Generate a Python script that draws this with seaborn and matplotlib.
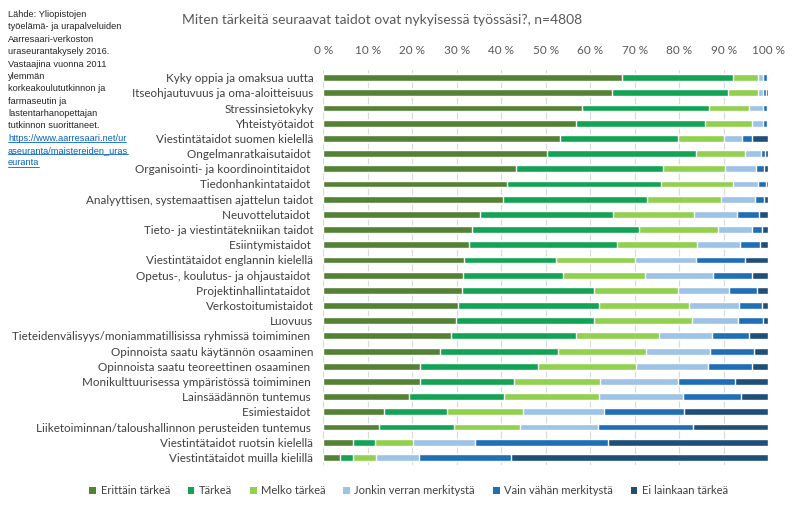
"""Stacked bar chart: how important are skills in current job."""

import matplotlib.pyplot as plt
import pandas as pd
import seaborn as sns
from matplotlib.lines import Line2D
from matplotlib.patches import Patch

skills = [
    "Kyky oppia ja omaksua uutta",
    "Itseohjautuvuus ja oma-aloitteisuus",
    "Stressinsietokyky",
    "Yhteistyötaidot",
    "Viestintätaidot suomen kielellä",
    "Ongelmanratkaisutaidot ",
    "Organisointi- ja koordinointitaidot ",
    "Tiedonhankintataidot ",
    "Analyyttisen, systemaattisen ajattelun taidot",
    "Neuvottelutaidot ",
    "Tieto- ja viestintätekniikan taidot",
    "Esiintymistaidot ",
    "Viestintätaidot englannin kielellä",
    "Opetus-, koulutus- ja ohjaustaidot ",
    "Projektinhallintataidot ",
    "Verkostoitumistaidot",
    "Luovuus",
    "Tieteidenvälisyys/moniammatillisissa ryhmissä toimiminen ",
    "Opinnoista saatu käytännön osaaminen",
    "Opinnoista saatu teoreettinen osaaminen ",
    "Monikulttuurisessa ympäristössä toimiminen ",
    "Lainsäädännön tuntemus ",
    "Esimiestaidot ",
    "Liiketoiminnan/taloushallinnon perusteiden tuntemus ",
    "Viestintätaidot ruotsin kielellä",
    "Viestintätaidot muilla kielillä",
]

levels = [
    "Erittäin tärkeä",
    "Tärkeä",
    "Melko tärkeä",
    "Jonkin verran merkitystä",
    "Vain vähän merkitystä",
    "Ei lainkaan tärkeä",
]

# percentages per answer level, same order as skills
erittain = [67.1, 65.0, 58.1, 56.9, 53.3, 50.4, 43.3, 41.4, 40.5, 35.3, 33.4, 32.7, 31.7,
            31.5, 31.2, 30.3, 29.9, 28.8, 26.3, 21.8, 21.8, 19.2, 13.7, 12.6, 6.6, 3.8]
tarkea = [24.9, 26.0, 28.6, 28.9, 26.5, 33.4, 33.0, 34.4, 32.2, 29.9, 37.5, 33.4, 20.7,
          22.4, 29.7, 31.7, 31.0, 28.1, 26.5, 26.4, 21.1, 21.5, 14.2, 16.7, 5.1, 2.8]
melko = [5.7, 6.7, 9.0, 10.5, 10.2, 10.9, 14.0, 16.2, 16.7, 18.1, 17.9, 18.0, 17.6,
         18.5, 18.9, 20.3, 21.9, 18.5, 19.8, 22.1, 19.3, 21.3, 16.9, 15.0, 8.4, 5.2]
jonkin = [1.2, 1.2, 3.1, 2.5, 4.2, 3.7, 7.0, 5.8, 7.7, 9.7, 7.5, 9.5, 13.8,
          15.2, 11.4, 11.2, 10.5, 12.0, 14.4, 16.2, 17.6, 18.8, 18.3, 17.5, 14.1, 9.8]
vain = [0.8, 0.7, 0.9, 0.9, 2.2, 0.9, 1.8, 1.7, 2.0, 4.9, 2.3, 4.6, 11.0,
        8.7, 6.3, 5.1, 5.5, 8.2, 9.7, 9.8, 12.8, 13.1, 18.0, 21.2, 29.7, 20.6]
ei_lainkaan = [0.3, 0.4, 0.3, 0.3, 3.6, 0.7, 0.9, 0.5, 0.9, 2.1, 1.4, 1.8, 5.2,
               3.7, 2.5, 1.4, 1.2, 4.4, 3.3, 3.7, 7.4, 6.1, 18.9, 17.0, 36.1, 57.8]

colors = ["#548235", "#12A454", "#92D050", "#9DC3E6", "#1F6FB8", "#1F4E79"]

note_lines = [
    "Lähde: Yliopistojen",
    "työelämä- ja urapalveluiden",
    "Aarresaari-verkoston",
    "uraseurantakysely 2016.",
    "Vastaajina vuonna 2011",
    "ylemmän",
    "korkeakoulututkinnon ja",
    "farmaseutin ja",
    "lastentarhanopettajan",
    "tutkinnon suorittaneet.",
]
url_lines = [
    "https://www.aarresaari.net/ur",
    "aseuranta/maistereiden_uras",
    "euranta",
]

sns.set_style("white")
plt.rcParams["font.family"] = ["Lato", "DejaVu Sans"]

df = pd.DataFrame(
    {lvl: vals for lvl, vals in zip(levels, [erittain, tarkea, melko, jonkin, vain, ei_lainkaan])},
    index=skills,
)
cum = df.cumsum(axis=1)
cum = cum.div(cum[levels[-1]], axis=0) * 100  # normalise to 100 %
cum = cum.reset_index(names="skill")

fig = plt.figure(figsize=(7.92, 5.19), dpi=100)
ax = fig.add_axes([0.408, 0.104, 0.562, 0.761])

# draw from the full bar down so each shorter cumulative bar sits on top
for lvl, col in reversed(list(zip(levels, colors))):
    sns.barplot(cum, x=lvl, y="skill", color=col, saturation=1, width=0.45, ax=ax)

ax.set_xlim(0, 100)
ax.set_xticks(range(0, 101, 10))
ax.xaxis.set_major_formatter("{x:.0f} %")
ax.xaxis.tick_top()
ax.tick_params(axis="x", length=0, pad=10, labelsize=8.5, labelcolor="#595959")
ax.tick_params(axis="y", length=0, pad=7, labelsize=8.4, labelcolor="#404040")
ax.grid(axis="x", color="#D9D9D9", linewidth=0.8)
ax.set_axisbelow(True)
for side in ax.spines.values():
    side.set_visible(False)
ax.set_xlabel("")
ax.set_ylabel("")

fig.text(0.483, 0.962, "Miten tärkeitä seuraavat taidot ovat nykyisessä työssäsi?, n=4808",
         ha="center", va="center", fontsize=10.0, color="#595959")

note_font = ["Liberation Sans", "DejaVu Sans"]
y = 0.967
step = 0.0238
for line in note_lines:
    fig.text(0.010, y, line, ha="left", va="baseline", fontsize=6.7, color="#262626",
             fontfamily=note_font)
    y -= step
url_texts = []
for line in url_lines:
    url_texts.append(fig.text(0.010, y, line, ha="left", va="baseline", fontsize=6.7,
                              color="#0563C1", fontfamily=note_font))
    y -= step

# underline the link lines
renderer = fig.canvas.get_renderer()
for t in url_texts:
    bb = t.get_window_extent(renderer).transformed(fig.transFigure.inverted())
    yl = bb.y0 + 0.001
    fig.add_artist(Line2D([bb.x0, bb.x1], [yl, yl], transform=fig.transFigure,
                          color="#0563C1", linewidth=0.6))

handles = [Patch(facecolor=c, edgecolor="none") for c in colors]
fig.legend(handles, levels, loc="center", bbox_to_anchor=(0.516, 0.055), ncol=6,
           frameon=False, fontsize=8, handlelength=0.6, handleheight=0.6,
           handletextpad=0.4, columnspacing=1.6, labelcolor="#404040")

fig.savefig("out.png", dpi=100)
